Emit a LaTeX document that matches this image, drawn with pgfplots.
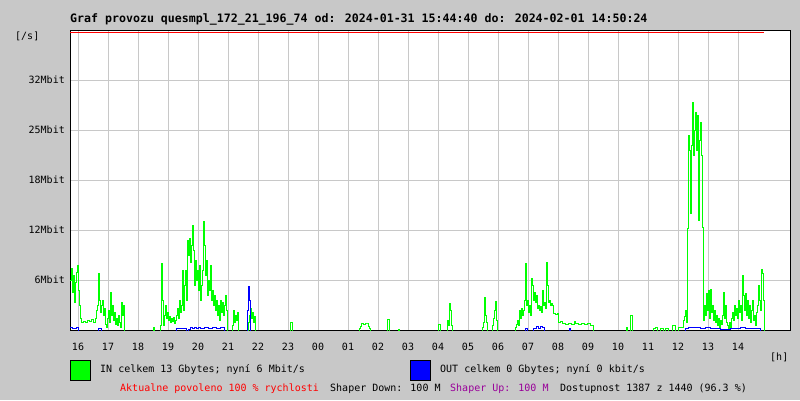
\documentclass[border=0pt]{standalone}
\usepackage{fontspec}
\setmainfont{DejaVu Sans Mono}
\usepackage{pgfplots}
\pgfplotsset{compat=1.18}
\definecolor{bggray}{HTML}{C8C8C8}
\definecolor{gridgray}{HTML}{C8C8C8}
\definecolor{ingreen}{HTML}{00FF00}
\definecolor{outblue}{HTML}{0000FF}
\definecolor{shpurple}{HTML}{990099}
\begin{document}
\fontsize{10}{12}\selectfont
\begin{tikzpicture}[x=1pt,y=1pt]
\fill[bggray] (0,0) rectangle (800,400);
\useasboundingbox (0,0) rectangle (800,400);
\begin{axis}[
  at={(70pt,70pt)}, anchor=south west,
  width=720pt, height=299pt, scale only axis,
  xmin=70, xmax=790, ymin=0, ymax=299,
  axis background/.style={fill=white},
  axis line style={black, line width=1pt},
  xtick={78,108,138,168,198,228,258,288,318,348,378,408,438,468,498,528,558,588,618,648,678,708,738},
  xticklabels={16,17,18,19,20,21,22,23,00,01,02,03,04,05,06,07,08,09,10,11,12,13,14},
  ytick={50,100,150,200,250},
  yticklabels={6Mbit,12Mbit,18Mbit,25Mbit,32Mbit},
  major tick length=0pt,
  grid=major,
  major grid style={gridgray, line width=1pt},
  /pgf/number format/assume math mode=true,
  ticklabel style={font=\fontsize{10}{12}\selectfont, inner sep=0pt},
  xticklabel style={anchor=base, yshift=-20.5pt},
  yticklabel style={anchor=east, xshift=-5pt},
  clip=true,
]
% IN (green)
\addplot[const plot, ingreen, line width=1pt] coordinates {
(70,50) (71,62) (72,38) (73,55) (74,28) (75,48) (76,58) (77,65) (78,40) (79,25)
(80,12) (81,8) (83,9) (85,8) (87,10) (89,9) (91,11) (93,8) (95,12) (96,20)
(97,25) (98,57) (99,30) (100,18) (101,25) (102,30) (103,15) (104,22) (105,6) (106,3)
(107,12) (108,20) (109,8) (110,38) (111,15) (112,25) (113,10) (114,18) (115,6) (116,12)
(117,5) (118,15) (119,8) (120,3) (121,28) (122,15) (123,25) (124,-2)
(153,3) (154,-2)
(160,5) (161,67) (162,30) (163,5) (164,15) (165,25) (166,12) (167,18) (168,10) (169,14)
(170,8) (171,12) (172,9) (173,13) (174,7) (175,10) (176,15) (177,22) (178,12) (179,30)
(180,18) (181,25) (182,60) (183,20) (184,45) (185,60) (186,30) (187,90) (188,75) (189,92)
(190,68) (191,85) (192,105) (193,80) (194,45) (195,70) (196,50) (197,60) (198,40) (199,65)
(200,30) (201,45) (202,60) (203,109) (204,85) (205,55) (206,70) (207,35) (208,50) (209,40)
(210,65) (211,30) (212,40) (213,25) (214,35) (215,20) (216,30) (217,15) (218,25) (219,10)
(220,30) (221,18) (222,28) (223,15) (224,25) (225,35) (226,20) (227,-2)
(232,5) (233,20) (234,8) (235,15) (236,10) (237,18) (238,-2)
(248,8) (249,15) (250,22) (251,12) (252,18) (253,8) (254,14) (255,-2)
(290,8) (292,-2)
(359,2) (360,4) (361,7) (363,6) (365,7) (367,7) (368,4) (369,2) (370,-2)
(387,11) (389,-2) (398,1) (399,-2)
(438,6) (440,-2) (447,10) (448,5) (449,27) (450,20) (451,5) (452,-2)
(482,3) (483,8) (484,33) (485,15) (486,8) (487,-2)
(492,5) (493,12) (494,20) (495,29) (496,10) (497,-2)
(515,3) (516,6) (517,10) (518,5) (519,20) (520,12) (521,22) (522,15) (523,20) (524,30)
(525,67) (526,25) (527,30) (528,18) (529,25) (530,15) (531,52) (532,45) (533,30) (534,38)
(535,28) (536,35) (537,22) (538,25) (539,20) (540,24) (541,18) (542,40) (543,25) (544,28)
(545,22) (546,68) (547,45) (548,28) (549,30) (550,25) (551,27) (552,25) (553,17) (555,16)
(557,17) (558,8) (560,9) (562,7) (565,6) (568,7) (571,6) (574,9) (575,7) (578,6)
(581,7) (584,6) (587,7) (590,5) (593,-2)
(626,3) (627,-2) (630,15) (632,-2)
(653,2) (655,3) (657,-2) (660,2) (663,-2) (665,2) (668,-2) (672,5) (675,-2) (678,3)
(683,10) (684,14) (685,20) (686,8) (687,102) (688,195) (689,180) (690,117) (691,185) (692,228)
(693,175) (694,200) (695,218) (696,180) (697,215) (698,110) (699,190) (700,208) (701,175) (702,103)
(703,10) (704,25) (705,15) (706,37) (707,20) (708,40) (709,12) (710,41) (711,18) (712,25)
(713,10) (714,20) (715,8) (716,15) (717,5) (718,12) (719,3) (720,10) (721,6) (722,15)
(723,38) (724,12) (725,25) (726,8) (727,5) (728,2) (729,8) (730,3) (731,12) (732,18)
(733,10) (734,25) (735,15) (736,22) (737,12) (738,30) (739,18) (740,25) (741,10) (742,55)
(743,35) (744,20) (745,37) (746,15) (747,30) (748,12) (749,25) (750,8) (751,20) (752,30)
(753,10) (754,15) (755,5) (756,18) (757,25) (758,45) (759,30) (760,20) (761,61) (762,57)
(763,30) (764,-2)
};
% OUT (blue)
\addplot[const plot, outblue, line width=1pt] coordinates {
(70,3) (72,2) (76,3) (78,-2) (98,2) (101,-2) (176,2) (186,-2)
(188,1) (190,3) (192,2) (194,3) (196,2) (198,3) (200,2) (204,3) (208,2) (212,3)
(216,2) (220,3) (224,-2)
(247,20) (248,44) (249,30) (250,-2)
(525,2) (527,-2) (533,2) (536,4) (538,2) (540,4) (542,3) (544,-2) (569,2) (570,-2)
(685,2) (688,3) (700,2) (705,3) (710,2) (720,1) (730,2) (740,3) (745,2) (760,-2)
};
% limit line
\addplot[red, line width=1pt] coordinates {(70,297.8) (764,297.8)};
\end{axis}
% texts
\node[anchor=base west, inner sep=0pt, font=\fontsize{11.6}{14}\selectfont\bfseries] at (70,377)
  {Graf provozu quesmpl\_172\_21\_196\_74 od: 2024-01-31 15:44:40 do: 2024-02-01 14:50:24};
\node[anchor=base west, inner sep=0pt] at (15,360) {[/s]};
\node[anchor=base west, inner sep=0pt] at (770,40) {[h]};
\draw[black, fill=ingreen, line width=1pt] (70.5,19.5) rectangle (90.5,39.5);
\node[anchor=base west, inner sep=0pt] at (100,28) {IN celkem 13 Gbytes; nyní 6 Mbit/s};
\draw[black, fill=outblue, line width=1pt] (410.5,19.5) rectangle (430.5,39.5);
\node[anchor=base west, inner sep=0pt] at (440,28) {OUT celkem 0 Gbytes; nyní 0 kbit/s};
\node[anchor=base west, inner sep=0pt, text=red] at (120,9) {Aktualne povoleno 100 \% rychlosti};
\node[anchor=base west, inner sep=0pt] at (330,9) {Shaper Down: 100 M};
\node[anchor=base west, inner sep=0pt, text=shpurple] at (450,9) {Shaper Up: 100 M};
\node[anchor=base west, inner sep=0pt] at (560,9) {Dostupnost 1387 z 1440 (96.3 \%)};
\end{tikzpicture}
\end{document}
